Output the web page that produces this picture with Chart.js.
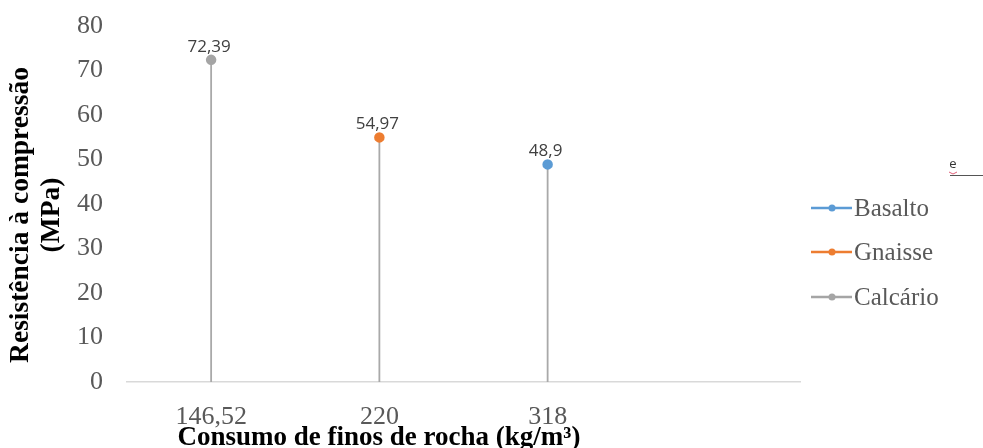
<!DOCTYPE html>
<html>
<head>
<meta charset="utf-8">
<script src="https://cdn.jsdelivr.net/npm/chart.js@4"></script>
<style>
  html, body { margin: 0; padding: 0; background: #ffffff; }
  #wrap { width: 983px; height: 448px; }
</style>
</head>
<body>
<div id="wrap"><canvas id="chart" width="983" height="448"></canvas></div>
<script>
// Consumo de finos de rocha (kg/m³) per rock type
const categories = ['146,52', '220', '318', ''];
const seriesNames = ['Basalto', 'Gnaisse', 'Calcário'];
const seriesColors = ['#5B9BD5', '#ED7D31', '#A5A5A5'];

// Resistência à compressão (MPa)
const basalto  = [null, null, 48.9, null];
const gnaisse  = [null, 54.97, null, null];
const calcario = [72.39, null, null, null];

const yTickValues = [0, 10, 20, 30, 40, 50, 60, 70, 80];

const yTitleLines = ['Resistência à compressão', '(MPa)'];
const xTitle = 'Consumo de finos de rocha (kg/m³)';

const serif = '"Liberation Serif", "Times New Roman", serif';
const sans = '"Open Sans", "Noto Sans", sans-serif';

const fmt = v => String(v).replace('.', ',');

// Vertical drop lines from each point down to the category axis
const dropLines = {
  id: 'dropLines',
  beforeDatasetsDraw(chart) {
    const ctx = chart.ctx;
    const y0 = chart.scales.y.getPixelForValue(0);
    ctx.save();
    ctx.strokeStyle = '#a9a9a9';
    ctx.lineWidth = 1.8;
    chart.data.datasets.forEach((ds, i) => {
      const meta = chart.getDatasetMeta(i);
      meta.data.forEach((pt, j) => {
        if (ds.data[j] == null) return;
        ctx.beginPath();
        ctx.moveTo(pt.x, pt.y);
        ctx.lineTo(pt.x, y0);
        ctx.stroke();
      });
    });
    ctx.restore();
  }
};

// Value labels above the points
const valueLabels = {
  id: 'valueLabels',
  afterDatasetsDraw(chart) {
    const ctx = chart.ctx;
    ctx.save();
    ctx.font = '17px ' + sans;
    ctx.fillStyle = '#404040';
    ctx.textAlign = 'center';
    ctx.textBaseline = 'middle';
    chart.data.datasets.forEach((ds, i) => {
      const meta = chart.getDatasetMeta(i);
      meta.data.forEach((pt, j) => {
        const v = ds.data[j];
        if (v == null) return;
        ctx.fillText(fmt(v), pt.x - 2, pt.y - 13);
      });
    });
    ctx.restore();
  }
};

// Axis titles and the legend on the right
const decorations = {
  id: 'decorations',
  afterDraw(chart) {
    const ctx = chart.ctx;
    ctx.save();
    // y title (two rotated lines)
    ctx.fillStyle = '#000000';
    ctx.font = 'bold 27.5px ' + serif;
    ctx.textAlign = 'center';
    ctx.textBaseline = 'middle';
    const yCenters = [21, 52];
    yTitleLines.forEach((t, i) => {
      ctx.save();
      ctx.translate(yCenters[i], 215);
      ctx.rotate(-Math.PI / 2);
      ctx.fillText(t, 0, 0);
      ctx.restore();
    });
    // x title
    ctx.font = 'bold 27px ' + serif;
    ctx.fillText(xTitle, 379, 438);

    // legend
    const legendY = [208, 252, 297];
    chart.data.datasets.forEach((ds, i) => {
      const y = legendY[i];
      ctx.strokeStyle = ds.borderColor;
      ctx.lineWidth = 2.5;
      ctx.beginPath();
      ctx.moveTo(811, y);
      ctx.lineTo(852, y);
      ctx.stroke();
      ctx.fillStyle = ds.pointBackgroundColor;
      ctx.beginPath();
      ctx.arc(832, y, 3.5, 0, Math.PI * 2);
      ctx.fill();
      ctx.fillStyle = '#595959';
      ctx.font = '25px ' + serif;
      ctx.textAlign = 'left';
      ctx.fillText(ds.label, 854, y + 1);
    });

    // clipped fragment at the right edge
    ctx.fillStyle = '#333333';
    ctx.font = '13px ' + sans;
    ctx.textAlign = 'center';
    ctx.fillText('e', 953, 164);
    ctx.strokeStyle = '#e0607a';
    ctx.lineWidth = 1;
    ctx.beginPath();
    ctx.moveTo(949, 172); ctx.lineTo(953, 174); ctx.lineTo(957, 172);
    ctx.stroke();
    ctx.strokeStyle = '#555555';
    ctx.beginPath();
    ctx.moveTo(950, 175.5); ctx.lineTo(983, 175.5);
    ctx.stroke();
    ctx.restore();
  }
};

const makeSet = (i, data) => ({
  label: seriesNames[i],
  data: data,
  borderColor: seriesColors[i],
  backgroundColor: seriesColors[i],
  pointBackgroundColor: seriesColors[i],
  pointBorderColor: seriesColors[i],
  pointRadius: 4,
  pointHoverRadius: 4,
  borderWidth: 2.5,
  showLine: false
});

new Chart(document.getElementById('chart'), {
  type: 'line',
  data: {
    labels: categories,
    datasets: [makeSet(0, basalto), makeSet(1, gnaisse), makeSet(2, calcario)]
  },
  options: {
    responsive: false,
    animation: false,
    events: [],
    layout: { padding: { top: 26, right: 183, left: 0, bottom: 0 } },
    plugins: { legend: { display: false }, tooltip: { enabled: false } },
    scales: {
      x: {
        type: 'category',
        offset: true,
        grid: { display: false, drawTicks: false },
        border: { display: true, color: '#d9d9d9', width: 1.5 },
        ticks: {
          font: { family: serif, size: 26 },
          color: '#595959',
          padding: 20,
          maxRotation: 0,
          autoSkip: false
        },
        afterFit(scale) { scale.height = 66; }
      },
      y: {
        min: 0,
        max: 80,
        afterBuildTicks(scale) { scale.ticks = yTickValues.map(v => ({ value: v })); },
        grid: { display: false, drawTicks: false },
        border: { display: false },
        ticks: {
          font: { family: serif, size: 26 },
          color: '#595959',
          padding: 24
        },
        afterFit(scale) {
          scale.width = 127;
          scale.paddingTop = 0;
          scale.paddingBottom = 0;
        }
      }
    }
  },
  plugins: [dropLines, valueLabels, decorations]
});
</script>
</body>
</html>
